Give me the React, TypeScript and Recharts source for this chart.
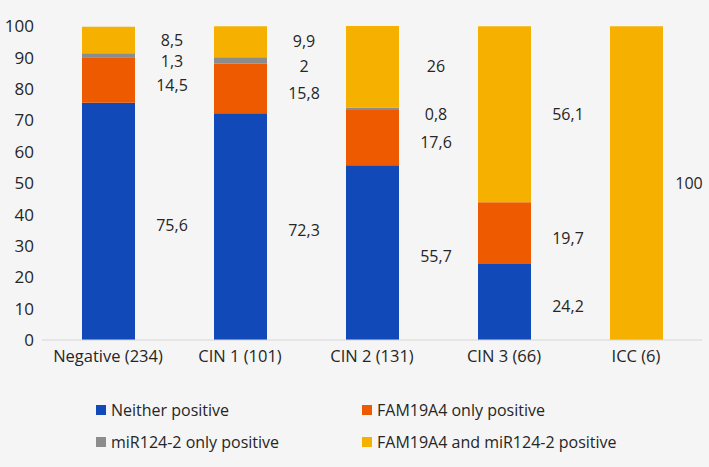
import { BarChart, Bar, XAxis, YAxis, Legend, LabelList } from "recharts";

const categories = ["Negative (234)", "CIN 1 (101)", "CIN 2 (131)", "CIN 3 (66)", "ICC (6)"];
const neitherPositive = [75.6, 72.3, 55.7, 24.2, 0];
const famOnlyPositive = [14.5, 15.8, 17.6, 19.7, 0];
const mirOnlyPositive = [1.3, 2, 0.8, null, 0];
const bothPositive = [8.5, 9.9, 26, 56.1, 100];
const yTicks = [0, 10, 20, 30, 40, 50, 60, 70, 80, 90, 100];

const series = [
  { key: "neither", name: "Neither positive", color: "#1249B8", values: neitherPositive, labelDy: 4 },
  { key: "fam", name: "FAM19A4 only positive", color: "#EE5A00", values: famOnlyPositive, labelDy: 5 },
  { key: "mir", name: "miR124-2 only positive", color: "#8C8C8C", values: mirOnlyPositive, labelDy: 6 },
  { key: "both", name: "FAM19A4 and miR124-2 positive", color: "#F6B100", values: bothPositive, labelDy: 0 },
];

const data = categories.map((name, i) => {
  const row: any = { name };
  series.forEach((s) => (row[s.key] = s.values[i]));
  return row;
});

const FONT = "'Open Sans', sans-serif";

const makeLabel = (shift: number) => (props: any) => {
  const vb = props.viewBox || props;
  const { value } = props;
  if (value === null || value === undefined) return null;
  const cx = Math.min(Number(vb.x) + Number(vb.width) + 37, 689);
  const cy = Number(vb.y) + Number(vb.height) / 2 + (value === 0 ? -2 : shift);
  const text = value === 0 ? "-" : String(value).replace(".", ",");
  return (
    <text x={cx} y={cy} dy="0.35em" textAnchor="middle" fontSize={16} fontFamily={FONT} fill="#262626">
      {text}
    </text>
  );
};

const legendPos = [
  { left: 96, top: 29 },
  { left: 362, top: 29 },
  { left: 96, top: 61 },
  { left: 362, top: 61 },
];

const renderLegend = () => (
  <div style={{ position: "relative", width: 709, height: 92, fontFamily: FONT, fontSize: 16, color: "#262626" }}>
    {series.map((s, i) => (
      <div
        key={s.key}
        style={{ position: "absolute", left: legendPos[i].left, top: legendPos[i].top, display: "flex", alignItems: "center", whiteSpace: "nowrap" }}
      >
        <span style={{ display: "inline-block", width: 10, height: 10, background: s.color, marginRight: 5 }} />
        {s.name}
      </div>
    ))}
  </div>
);

export default function App() {
  return (
    <div style={{ position: "fixed", left: 0, top: 0, width: 709, height: 467, background: "#F5F5F5" }}>
      <BarChart width={709} height={467} data={data} margin={{ top: 26, right: 7, left: 0, bottom: 5 }} barSize={53}>
        <XAxis
          dataKey="name"
          tickLine={false}
          axisLine={{ stroke: "#D6D6D6" }}
          height={30}
          tickMargin={4}
          tick={{ fontSize: 16.5, fontFamily: FONT, fill: "#262626" }}
          interval={0}
        />
        <YAxis
          width={42}
          domain={[0, 100]}
          ticks={yTicks}
          axisLine={false}
          tickLine={false}
          tick={{ fontSize: 17, fontFamily: FONT, fill: "#262626" }}
        />
        <Legend verticalAlign="bottom" align="left" height={92} content={renderLegend} wrapperStyle={{ left: 0, width: 709 }} />
        {series.map((s) => (
          <Bar key={s.key} dataKey={s.key} name={s.name} stackId="a" fill={s.color} isAnimationActive={false}>
            <LabelList dataKey={s.key} content={makeLabel(s.labelDy)} />
          </Bar>
        ))}
      </BarChart>
    </div>
  );
}
